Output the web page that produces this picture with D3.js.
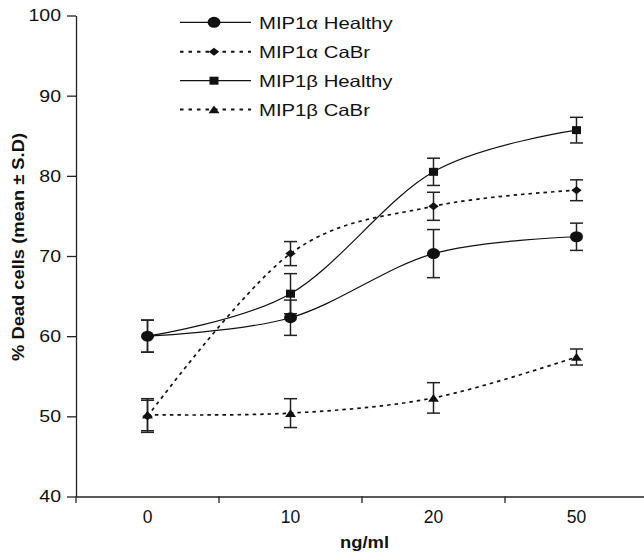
<!DOCTYPE html>
<html>
<head>
<meta charset="utf-8">
<script src="https://cdn.jsdelivr.net/npm/d3@7/dist/d3.min.js"></script>
<style>
  html, body { margin: 0; padding: 0; background: #fff; }
  svg { display: block; }
  text { font-family: "Liberation Sans", Arial, Helvetica, sans-serif; fill: #111; }
</style>
</head>
<body>
<svg id="chart" width="644" height="555"></svg>
<script>
// ---- data ----
const categories = ["0", "10", "20", "50"];
const yTicks = [40, 50, 60, 70, 80, 90, 100];
const seriesNames = ["MIP1\u03B1 Healthy", "MIP1\u03B1 CaBr", "MIP1\u03B2 Healthy", "MIP1\u03B2 CaBr"];
const mip1aHealthy   = [60.0, 62.3, 70.3, 72.4];
const mip1aHealthySD = [2.0, 2.2, 3.0, 1.7];
const mip1aCaBr      = [50.0, 70.3, 76.2, 78.2];
const mip1aCaBrSD    = [2.0, 1.5, 1.75, 1.3];
const mip1bHealthy   = [60.0, 65.3, 80.5, 85.7];
const mip1bHealthySD = [2.0, 2.5, 1.7, 1.6];
const mip1bCaBr      = [50.2, 50.4, 52.3, 57.4];
const mip1bCaBrSD    = [2.0, 1.8, 1.9, 1.0];
const yTitle = "% Dead cells (mean \u00B1 S.D)";
const xTitle = "ng/ml";

// ---- styles (not data) ----
const seriesStyle = [
  { values: mip1aHealthy, sd: mip1aHealthySD, dash: null, marker: "circle" },
  { values: mip1aCaBr,    sd: mip1aCaBrSD,    dash: "3.5,4", marker: "diamond" },
  { values: mip1bHealthy, sd: mip1bHealthySD, dash: null, marker: "square" },
  { values: mip1bCaBr,    sd: mip1bCaBrSD,    dash: "3.5,4", marker: "triangle" }
];

const svg = d3.select("#chart");
svg.append("rect").attr("width", 644).attr("height", 555).attr("fill", "#fff");

const x = d3.scaleBand().domain(categories).range([76, 648]).paddingInner(0).paddingOuter(0);
const y = d3.scaleLinear().domain([40, 100]).range([496.5, 15.5]);
const cx = c => x(c) + x.bandwidth() / 2;

function stretch(sel, factor) {
  sel.each(function () {
    const w = this.getComputedTextLength();
    d3.select(this).attr("textLength", w * factor).attr("lengthAdjust", "spacingAndGlyphs");
  });
}

// ---- axes ----
const yAxis = d3.axisLeft(y).tickValues(yTicks).tickSize(9).tickSizeOuter(0).tickPadding(6);
const gy = svg.append("g").attr("transform", "translate(76,0)").call(yAxis);
gy.select(".domain").attr("stroke", "#222").attr("stroke-width", 1.3);
gy.selectAll(".tick line").attr("stroke", "#222").attr("stroke-width", 1.3);
gy.selectAll(".tick text").attr("font-size", 16).attr("fill", "#111").attr("dy", "0.34em")
  .call(stretch, 1.22);

const xAxis = d3.axisBottom(x).tickSize(0).tickSizeOuter(0).tickPadding(14);
const gx = svg.append("g").attr("transform", "translate(0,496.5)").call(xAxis);
gx.select(".domain").attr("stroke", "#222").attr("stroke-width", 1.3);
gx.selectAll(".tick text").attr("font-size", 17.5).attr("fill", "#111").attr("dy", "0.72em");
// boundary ticks between categories
gx.selectAll(".bound").data(categories).enter().append("line")
  .attr("class", "bound")
  .attr("x1", d => x(d)).attr("x2", d => x(d))
  .attr("y1", 0).attr("y2", 6.5)
  .attr("stroke", "#222").attr("stroke-width", 1.3);

// axis titles
svg.append("text")
  .attr("transform", "translate(24," + ((133 + 361) / 2) + ") rotate(-90)")
  .attr("text-anchor", "middle")
  .attr("font-size", 17).attr("font-weight", "bold")
  .attr("textLength", 228).attr("lengthAdjust", "spacingAndGlyphs")
  .text(yTitle);

svg.append("text")
  .attr("x", 364.5).attr("y", 548)
  .attr("text-anchor", "middle")
  .attr("font-size", 17).attr("font-weight", "bold")
  .attr("textLength", 49).attr("lengthAdjust", "spacingAndGlyphs")
  .text(xTitle);

// ---- markers ----
function drawMarker(g, type, px, py) {
  if (type === "circle") {
    g.append("ellipse").attr("cx", px).attr("cy", py).attr("rx", 6.5).attr("ry", 5.5).attr("fill", "#111");
  } else if (type === "square") {
    g.append("rect").attr("x", px - 4.5).attr("y", py - 4).attr("width", 9).attr("height", 8).attr("fill", "#111");
  } else if (type === "diamond") {
    g.append("path").attr("d", `M${px - 5.2},${py} L${px},${py - 4} L${px + 5.2},${py} L${px},${py + 4} Z`).attr("fill", "#111");
  } else if (type === "triangle") {
    g.append("path").attr("d", `M${px - 5.5},${py + 3.8} L${px},${py - 4} L${px + 5.5},${py + 3.8} Z`).attr("fill", "#111");
  }
}

const line = d3.line()
  .x((d, i) => cx(categories[i]))
  .y(d => y(d))
  .curve(d3.curveCardinal.tension(0));

const gLines = svg.append("g");
const gErr = svg.append("g");
const gMark = svg.append("g");

seriesStyle.forEach(s => {
  gLines.append("path")
    .attr("d", line(s.values))
    .attr("fill", "none")
    .attr("stroke", "#111")
    .attr("stroke-width", s.dash ? 1.7 : 1.2)
    .attr("stroke-dasharray", s.dash);

  s.values.forEach((v, i) => {
    const px = cx(categories[i]);
    const top = y(v + s.sd[i]), bot = y(v - s.sd[i]);
    gErr.append("line").attr("x1", px).attr("x2", px).attr("y1", top).attr("y2", bot)
      .attr("stroke", "#222").attr("stroke-width", 1.5);
    [top, bot].forEach(yy => gErr.append("line")
      .attr("x1", px - 6.5).attr("x2", px + 6.5).attr("y1", yy).attr("y2", yy)
      .attr("stroke", "#222").attr("stroke-width", 1.5));
    drawMarker(gMark, s.marker, px, y(v));
  });
});

// ---- legend ----
const legendRows = [22.3, 51.7, 80.7, 109.5];
const gLeg = svg.append("g");
seriesNames.forEach((name, i) => {
  const s = seriesStyle[i];
  const ry = legendRows[i];
  gLeg.append("line").attr("x1", 180).attr("x2", 251).attr("y1", ry).attr("y2", ry)
    .attr("stroke", "#111")
    .attr("stroke-width", s.dash ? 1.9 : 1.2)
    .attr("stroke-dasharray", s.dash ? "3.5,5" : null);
  drawMarker(gLeg, s.marker, 214, ry);
  gLeg.append("text").attr("x", 259).attr("y", ry + 6.2)
    .attr("font-size", 16.5).text(name).call(stretch, 1.23);
});
</script>
</body>
</html>
